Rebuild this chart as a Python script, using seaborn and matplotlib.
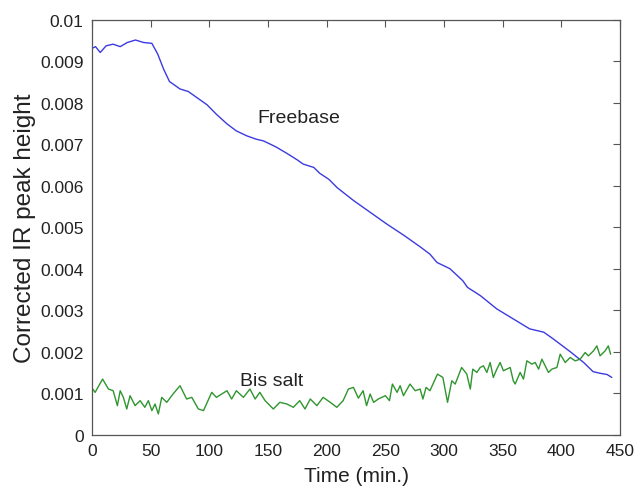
import matplotlib
matplotlib.use("Agg")
import matplotlib.pyplot as plt
import seaborn as sns
import pandas as pd
import numpy as np

# Freebase series (time in min, corrected IR peak height)
freebase_t = [0, 3, 7, 12, 18, 24, 30, 37, 44, 51, 56, 61, 66, 75, 82, 89, 98, 106,
              115, 123, 132, 140, 146, 152, 157, 166, 175, 180, 189, 194, 202, 209,
              223, 237, 251, 266, 280, 288, 294, 305, 316, 320, 331, 345, 359, 373,
              385, 393, 408, 419, 427, 433, 439, 443]
freebase_v = [0.00931, 0.00935, 0.00921, 0.00937, 0.00941, 0.00935, 0.00945, 0.00951,
              0.00945, 0.00943, 0.00917, 0.00881, 0.00851, 0.00833, 0.00827, 0.00813,
              0.00795, 0.00772, 0.00749, 0.00732, 0.00720, 0.00712, 0.00708, 0.00700,
              0.00693, 0.00678, 0.00662, 0.00652, 0.00644, 0.00630, 0.00615, 0.00595,
              0.00564, 0.00536, 0.00508, 0.00480, 0.00452, 0.00435, 0.00415, 0.00400,
              0.00371, 0.00355, 0.00335, 0.00303, 0.00279, 0.00255, 0.00247, 0.00231,
              0.00199, 0.00174, 0.00152, 0.00148, 0.00145, 0.00138]

# Bis salt series
bis_t = [0.6, 2.6, 9, 14, 18, 21.6, 24, 26.7, 29.6, 32.4, 36.7, 41, 45, 48, 51, 53.7,
         56.5, 59.4, 63.7, 69, 75, 80.6, 85, 90.6, 95, 102, 106, 115, 119, 123, 129,
         134.6, 139, 143, 147.5, 154.5, 160, 166, 171.6, 177, 181.5, 186, 191.6, 197,
         203, 208.6, 214, 218.5, 222.8, 227, 231, 234, 237, 240, 244, 250, 253.5, 256,
         260, 262.6, 265.4, 271, 275.4, 279.6, 282, 284.7, 288, 294.4, 299, 303, 306.6,
         309.5, 315, 319.4, 322.4, 324.5, 328, 330.8, 333.6, 336.5, 339.3, 342, 345,
         347.8, 350.6, 353.5, 356.4, 359, 360.6, 364.9, 367.7, 370.6, 374.9, 377.7,
         380.6, 383.4, 386.2, 389, 391.9, 396.2, 399, 403.3, 407.5, 411.8, 416, 420.3,
         423, 427.4, 430.2, 433, 437.3, 440, 442]
bis_v = [1.10, 1.02, 1.34, 1.10, 1.06, 0.70, 1.06, 0.90, 0.62, 0.94, 0.70, 0.82, 0.66,
         0.82, 0.58, 0.74, 0.50, 0.90, 0.78, 0.98, 1.18, 0.86, 0.90, 0.62, 0.58, 1.02,
         0.90, 1.06, 0.86, 1.06, 0.90, 1.10, 0.86, 1.02, 0.82, 0.62, 0.78, 0.74, 0.66,
         0.82, 0.62, 0.86, 0.70, 0.90, 0.78, 0.66, 0.82, 1.10, 1.14, 0.88, 1.06, 0.70,
         0.98, 0.78, 0.86, 0.94, 0.82, 1.22, 1.02, 1.18, 0.94, 1.22, 1.06, 1.10, 0.86,
         1.14, 1.06, 1.46, 1.38, 0.78, 1.30, 1.22, 1.62, 1.46, 1.10, 1.58, 1.50, 1.62,
         1.66, 1.50, 1.74, 1.38, 1.58, 1.74, 1.54, 1.58, 1.62, 1.30, 1.22, 1.50, 1.34,
         1.78, 1.70, 1.74, 1.58, 1.82, 1.66, 1.50, 1.58, 1.62, 1.94, 1.74, 1.86, 1.78,
         1.82, 1.98, 1.90, 2.02, 2.14, 1.90, 2.02, 2.14, 1.94]
bis_v = [v * 1e-3 for v in bis_v]

x_ticks = [0, 50, 100, 150, 200, 250, 300, 350, 400, 450]
y_ticks = [0, 0.001, 0.002, 0.003, 0.004, 0.005, 0.006, 0.007, 0.008, 0.009, 0.01]
y_tick_labels = ["0", "0.001", "0.002", "0.003", "0.004", "0.005", "0.006",
                 "0.007", "0.008", "0.009", "0.01"]

df = pd.concat([
    pd.DataFrame({"t": freebase_t, "v": freebase_v, "s": "Freebase"}),
    pd.DataFrame({"t": bis_t, "v": bis_v, "s": "Bis salt"}),
])

sns.set_style("white")
plt.rcParams["font.family"] = ["Liberation Sans", "DejaVu Sans"]

fig = plt.figure(figsize=(6.4, 4.89), dpi=100)
ax = fig.add_axes([0.1438, 0.109, 0.825, 0.8487])

sns.lineplot(data=df, x="t", y="v", hue="s", sort=False, estimator=None,
             palette={"Freebase": "#3b3be0", "Bis salt": "#2f952f"},
             linewidth=1.0, legend=False, ax=ax)

ax.set_xlim(0, 450)
ax.set_ylim(0, 0.01)
ax.set_xticks(x_ticks)
ax.set_xticklabels([str(x) for x in x_ticks])
ax.set_yticks(y_ticks)
ax.set_yticklabels(y_tick_labels)
ax.tick_params(direction="in", length=5, width=0.8, color="#555555",
               top=True, right=True, labelsize=12.5, labelcolor="#222222", pad=6)
for sp in ax.spines.values():
    sp.set_visible(True)
    sp.set_color("#555555")
    sp.set_linewidth(0.9)

ax.set_xlabel("Time (min.)", fontsize=15, color="#222222", labelpad=6)
ax.set_ylabel("Corrected IR peak height", fontsize=17.5, color="#222222", labelpad=3)

ax.text(176, 0.00765, "Freebase", fontsize=14, ha="center", va="center", color="#222222")
ax.text(153, 0.00131, "Bis salt", fontsize=14, ha="center", va="center", color="#222222")

fig.savefig("out.png", dpi=100)
